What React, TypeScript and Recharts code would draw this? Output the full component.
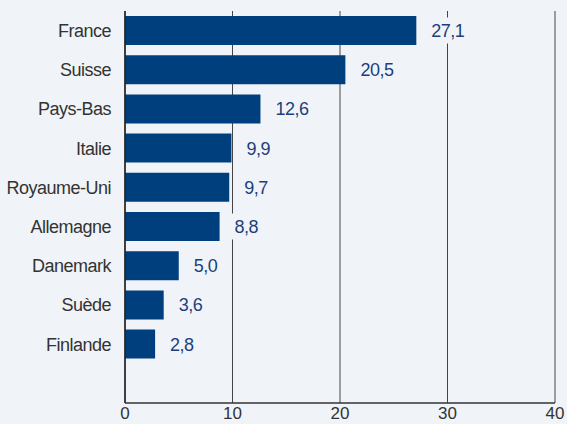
import { BarChart, Bar, XAxis, YAxis, CartesianGrid, LabelList } from 'recharts'

const countries = ['France', 'Suisse', 'Pays-Bas', 'Italie', 'Royaume-Uni', 'Allemagne', 'Danemark', 'Suède', 'Finlande', '']
const values = [27.1, 20.5, 12.6, 9.9, 9.7, 8.8, 5.0, 3.6, 2.8, null]
const xTicks = [0, 10, 20, 30, 40]

const data = countries.map((name, i) => ({ name, value: values[i] }))

const BG = '#f0f4f8'
const FONT = '"Liberation Sans", Arial, sans-serif'
const FS = 18

function ValueLabel(props: any) {
  const { x, y, width, height, value } = props
  if (value == null) return null
  const text = Number(value).toFixed(1).replace('.', ',')
  const end = x + width
  const cy = y + height / 2
  return (
    <g>
      <rect x={end + 6} y={cy - 13} width={text.length * 9.5 + 14} height={26} fill={BG} />
      <text x={end + 15} y={cy} dy="0.36em" fill="#1c3f7c" fontSize={FS} letterSpacing={-0.5} fontFamily={FONT}>
        {text}
      </text>
    </g>
  )
}

export default function App() {
  return (
    <div style={{ position: 'absolute', left: 0, top: 0, width: 567, height: 424, background: BG }}>
      <BarChart
        width={567}
        height={424}
        data={data}
        layout="vertical"
        margin={{ top: 11, right: 12, left: 0, bottom: 0 }}
        barSize={29}
      >
        <CartesianGrid horizontal={false} stroke="#444" />
        <XAxis
          type="number"
          domain={[0, 40]}
          ticks={xTicks}
          height={21}
          tickLine={false}
          tickSize={0}
          tickMargin={4}
          axisLine={{ stroke: '#333', strokeWidth: 1.5 }}
          tick={{ fill: '#333', fontSize: 17, fontFamily: FONT }}
          interval={0}
        />
        <YAxis
          type="category"
          dataKey="name"
          width={125}
          tickLine={false}
          tickSize={0}
          tickMargin={14}
          axisLine={{ stroke: '#222', strokeWidth: 1.5 }}
          tick={{ fill: '#333', fontSize: FS, fontFamily: FONT, letterSpacing: -0.5 }}
          interval={0}
        />
        <Bar dataKey="value" fill="#003f7d" isAnimationActive={false}>
          <LabelList dataKey="value" content={ValueLabel} />
        </Bar>
      </BarChart>
    </div>
  )
}
